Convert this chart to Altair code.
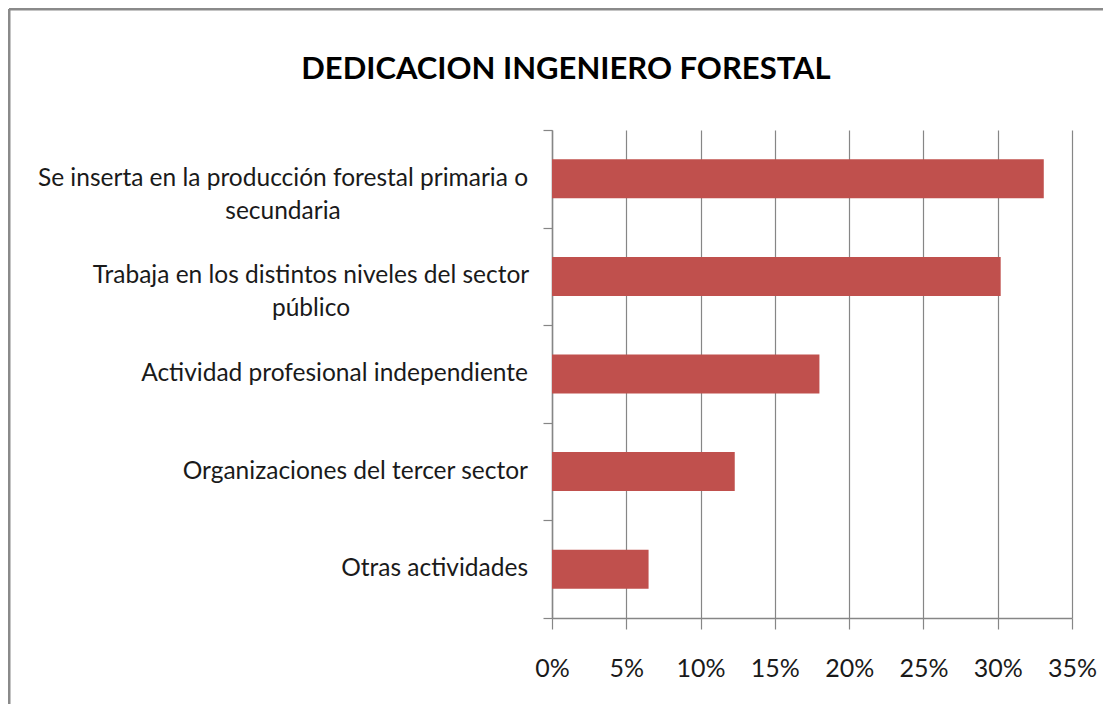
import altair as alt
import pandas as pd

categories = [
    "Se inserta en la producción forestal primaria o|secundaria",
    "Trabaja en los distintos niveles del sector|público",
    "Actividad profesional independiente",
    "Organizaciones del tercer sector",
    "Otras actividades",
]
values = [0.331, 0.302, 0.180, 0.123, 0.065]
x_ticks = [0, 0.05, 0.10, 0.15, 0.20, 0.25, 0.30, 0.35]
title_text = "DEDICACION INGENIERO FORESTAL"

df = pd.DataFrame({"cat": categories, "val": values})

W, H = 520, 488
FONT = "Lato"
GRAY = "#868686"
TXT = "#1a1a1a"
LBL = 24.5

y_enc = alt.Y(
    "cat:N",
    sort=categories,
    scale=alt.Scale(paddingInner=0, paddingOuter=0),
    axis=alt.Axis(
        title=None, grid=False, labels=False, tickBand="extent", tickSize=9,
        tickColor=GRAY, tickWidth=1.2, domainColor=GRAY, domainWidth=1.5,
    ),
)

bars = alt.Chart(df).mark_bar(color="#C0504D", size=39).encode(
    x=alt.X(
        "val:Q",
        scale=alt.Scale(domain=[0, 0.35], nice=False, zero=True),
        axis=alt.Axis(
            values=x_ticks, format=".0%", grid=True, gridColor=GRAY, gridWidth=1.2,
            domainColor=GRAY, domainWidth=1.5, tickColor=GRAY, tickSize=11, tickWidth=1.2,
            labelFont=FONT, labelFontSize=25, labelColor=TXT, labelPadding=27,
            title=None, labelFlush=False, labelOverlap=False,
        ),
    ),
    y=y_enc,
)

single = alt.Chart(df).transform_filter(
    "indexof(datum.cat, '|') < 0"
).mark_text(align="right", baseline="middle", font=FONT, fontSize=LBL, color=TXT).encode(
    y=alt.Y("cat:N", sort=categories), x=alt.value(-24), text="cat:N"
)

multi1 = alt.Chart(df).transform_filter(
    alt.datum.cat == categories[0]
).mark_text(align="center", baseline="middle", font=FONT, fontSize=LBL, color=TXT,
            lineBreak="|", lineHeight=33).encode(
    y=alt.Y("cat:N", sort=categories), x=alt.value(-269), text="cat:N"
)

multi2 = alt.Chart(df).transform_filter(
    alt.datum.cat == categories[1]
).mark_text(align="center", baseline="middle", font=FONT, fontSize=LBL, color=TXT,
            lineBreak="|", lineHeight=33).encode(
    y=alt.Y("cat:N", sort=categories), x=alt.value(-241), text="cat:N"
)

frame_df = pd.DataFrame({"k": [0]})
left_border = alt.Chart(frame_df).mark_rule(color="#8a8a8a", strokeWidth=3).encode(
    x=alt.value(-543), y=alt.value(-121), y2=alt.value(H + 90)
)
top_border = alt.Chart(frame_df).mark_rule(color="#8a8a8a", strokeWidth=3).encode(
    x=alt.value(-543), x2=alt.value(W + 40), y=alt.value(-121)
)

chart = alt.layer(bars, single, multi1, multi2, left_border, top_border).properties(
    width=W,
    height=H,
    background="white",
    title=alt.TitleParams(
        title_text, font=FONT, fontSize=31, fontWeight="bold", color="black",
        anchor="middle", dx=-246, dy=102, offset=0, baseline="alphabetic",
    ),
    autosize=alt.AutoSizeParams(type="none"),
    padding={"left": 544, "top": 122, "right": 31, "bottom": 86},
).configure_view(stroke=None)

chart.save("out.html", embed_options={"renderer": "svg", "actions": False})
